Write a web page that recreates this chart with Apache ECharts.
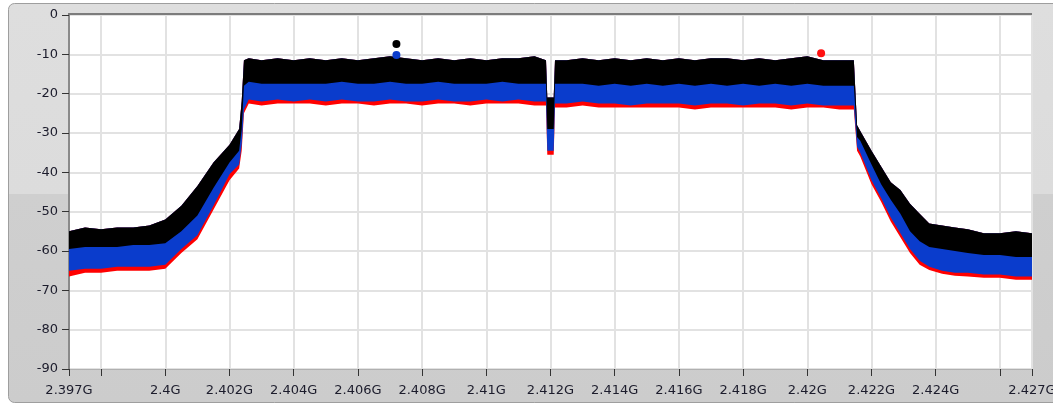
<!DOCTYPE html>
<html><head><meta charset="utf-8">
<script src="https://cdn.jsdelivr.net/npm/echarts@6/dist/echarts.min.js"></script>
<style>html,body{margin:0;padding:0;background:#fff}#c{width:1053px;height:408px}</style>
</head><body><div id="c"></div>
<script>
// Frequency sample points (MHz) where the trace envelopes were read
const freqMHz = [2397,2397.5,2398,2398.5,2399,2399.5,2400,2400.5,2401,2401.5,2402,2402.3,2402.38,2402.45,2402.6,
 2403,2403.5,2404,2404.5,2405,2405.5,2406,2406.5,2407,2407.5,2408,2408.5,2409,2409.5,2410,2410.5,2411,2411.5,2411.86,2411.9,2412.1,2412.14,
 2412.5,2413,2413.5,2414,2414.5,2415,2415.5,2416,2416.5,2417,2417.5,2418,2418.5,2419,2419.5,2420,2420.5,2421,2421.45,2421.55,2421.65,
 2422,2422.3,2422.6,2422.9,2423.2,2423.5,2423.8,2424.2,2424.6,2425,2425.5,2426,2426.5,2427];
// Black trace: upper and lower envelope (dB)
const blackHigh = [-55,-54,-54.5,-54,-54,-53.5,-52,-48.5,-43.5,-37.5,-33,-29,-22,-11.5,-11,
 -11.5,-11,-11.5,-11,-11.5,-11,-11.5,-11,-10.5,-11,-11.5,-11,-11.5,-11,-11.5,-11,-11,-10.5,-11.5,-21,-21,-11.5,
 -11.5,-11,-11.5,-11,-11.5,-11,-11.5,-11,-11.5,-11,-11,-11.5,-11,-11.5,-11,-10.5,-11.5,-11.5,-11.5,-28,-29.5,
 -34.5,-38.5,-42.5,-44.5,-48,-50.5,-53,-53.5,-54,-54.5,-55.5,-55.5,-55,-55.5];
const blackLow = [-59.5,-59,-59,-59,-58.5,-58.5,-58,-55,-51,-44,-37.5,-34.5,-29,-18,-17,
 -17.5,-17.5,-17.5,-17.5,-17.5,-17,-17.5,-17.5,-17,-17.5,-17.5,-17,-17.5,-17.5,-17.5,-17,-17.5,-17.5,-17.5,-29,-29,-17.5,
 -17.5,-17.5,-18,-17.5,-18,-17.5,-18,-17.5,-18,-17.5,-18,-17.5,-18,-17.5,-18,-17.5,-18,-18,-18,-31,-32,
 -38,-43,-47,-50.5,-55,-57.5,-59,-59.5,-60,-60.5,-61,-61,-61.5,-61.5];
// Blue trace: lower envelope (its top is hidden under the black trace)
const blueLow = [-65,-64.5,-64.5,-64,-64,-64,-63.5,-59.5,-56,-48.5,-40.5,-38,-33,-24,-21.5,
 -22,-21.5,-22,-21.5,-22,-21.5,-22,-22,-21.5,-22,-22,-21.5,-22,-22,-21.5,-22,-21.5,-22,-22,-34.5,-34.5,-22.5,
 -22.5,-22,-22.5,-22.5,-23,-22.5,-22.5,-22.5,-23,-22.5,-22.5,-23,-22.5,-22.5,-23,-22.5,-23,-23,-23,-33.5,-35,
 -42,-46.5,-51.5,-55.5,-59.5,-62.5,-64,-65,-65.5,-65.5,-66,-66,-66.5,-66.5];
// Red trace: lower envelope (its top is hidden under the blue trace)
const redLow = [-66.5,-65.5,-65.5,-65,-65,-65,-64.5,-60.5,-57,-49.5,-42,-39,-34.5,-25,-22.5,
 -23,-22.5,-22.5,-22.5,-23,-22.5,-22.5,-23,-22.5,-22.5,-23,-22.5,-22.5,-23,-22.5,-22.5,-22.5,-23,-23,-35.5,-35.5,-23.5,
 -23.5,-23,-23.5,-23.5,-23.5,-23.5,-23.5,-23.5,-24,-23.5,-23.5,-23.5,-23.5,-23.5,-24,-23.5,-23.5,-24,-24,-34.5,-36,
 -43,-47.5,-52.5,-56.5,-60.5,-63.5,-64.8,-65.8,-66.3,-66.5,-66.8,-66.8,-67.3,-67.3];
// Peak markers
const peakFreq = [2407.2, 2407.2, 2420.43];
const peakLevel = [-7.4, -10.2, -9.7];
const peakColor = ['#000000', '#0a3ccc', '#ff1010'];
// Axis ticks
const xTickValues = [2397,2398,2400,2402,2404,2406,2408,2410,2412,2414,2416,2418,2420,2422,2424,2426,2427];
const xLabelValues = [2397,2400,2402,2404,2406,2408,2410,2412,2414,2416,2418,2420,2422,2424,2427];

const FONT = 'DejaVu Sans';
const TXT = '#1c1c2c';

function band(name, upper, lower, color, z) {
  return {
    type: 'custom', name: name, z: z, silent: true, animation: false,
    coordinateSystem: 'cartesian2d',
    data: freqMHz.map((f, i) => [f, upper[i], lower[i]]),
    encode: { x: 0, y: [1, 2] },
    renderItem: function (params, api) {
      if (params.dataIndex !== 0) return null;
      const pts = [];
      for (let i = 0; i < freqMHz.length; i++) pts.push(api.coord([freqMHz[i], upper[i]]));
      for (let i = freqMHz.length - 1; i >= 0; i--) pts.push(api.coord([freqMHz[i], lower[i]]));
      return { type: 'polygon', shape: { points: pts }, style: { fill: color } };
    }
  };
}

const chart = echarts.init(document.getElementById('c'), null, { renderer: 'canvas' });
chart.setOption({
  animation: false,
  backgroundColor: '#ffffff',
  graphic: [{
    type: 'rect', z: -100, silent: true,
    shape: { x: 8.5, y: 3.5, width: 1070, height: 399, r: 6 },
    style: {
      fill: { type: 'linear', x: 0, y: 0, x2: 0, y2: 1, colorStops: [
        { offset: 0, color: '#dedede' }, { offset: 0.477, color: '#dcdcdc' },
        { offset: 0.478, color: '#cfcfcf' }, { offset: 1, color: '#cccccc' }] },
      stroke: '#9e9e9e', lineWidth: 1
    }
  }, {
    type: 'line', z: 50, silent: true,
    shape: { x1: 68, y1: 14, x2: 1032, y2: 14 },
    style: { stroke: '#7c7c7c', lineWidth: 2 }
  }],
  grid: {
    left: 69, top: 15, right: 21, bottom: 39,
    show: true, backgroundColor: '#ffffff', borderWidth: 0,
    containLabel: false, outerBoundsMode: 'none'
  },
  xAxis: {
    type: 'value', min: 2397, max: 2427,
    axisLine: { show: true, onZero: false, lineStyle: { color: '#b0b0b0', width: 1 } },
    axisTick: { show: true, customValues: xTickValues, length: 7, lineStyle: { color: '#333333', width: 1 } },
    axisLabel: {
      customValues: xLabelValues, margin: 15, color: TXT, fontFamily: FONT, fontSize: 13,
      formatter: v => (v / 1000).toFixed(3).replace(/0+$/, '').replace(/\.$/, '') + 'G'
    },
    splitLine: { show: true, lineStyle: { color: '#e2e2e2', width: 2 } }
  },
  yAxis: {
    type: 'value', min: -90, max: 0, interval: 10,
    axisLine: { show: true, onZero: false, lineStyle: { color: '#8a8a8a', width: 2 } },
    axisTick: { show: true, length: 7, lineStyle: { color: '#333333', width: 1 } },
    axisLabel: { margin: 11, color: TXT, fontFamily: FONT, fontSize: 13, align: 'right' },
    splitLine: { show: true, lineStyle: { color: '#e2e2e2', width: 2 } }
  },
  series: [
    band('red', blackHigh, redLow, '#ff0000', 2),
    band('blue', blackHigh, blueLow, '#0a3ccc', 3),
    band('black', blackHigh, blackLow, '#000000', 4),
    {
      type: 'scatter', z: 6, silent: true, symbol: 'circle', symbolSize: 8,
      data: peakFreq.map((f, i) => ({ value: [f, peakLevel[i]], itemStyle: { color: peakColor[i], opacity: 1 } }))
    }
  ]
});
</script></body></html>
